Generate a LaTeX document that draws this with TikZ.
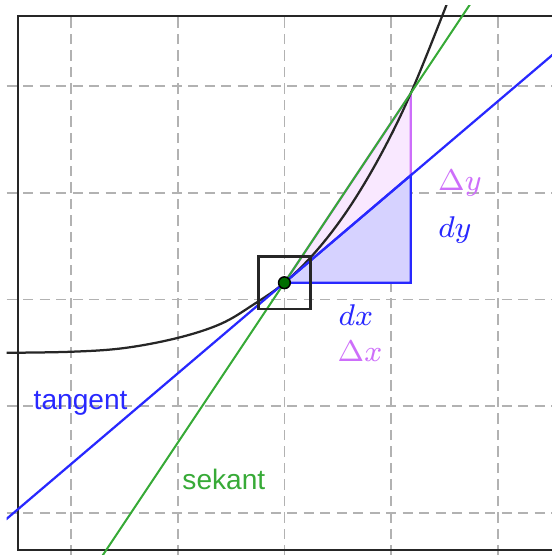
\documentclass[tikz,border=0pt]{standalone}
\usepackage{xcolor}
\usepackage{fontspec}
\newfontfamily\labelfont{Liberation Sans}
\definecolor{tanblue}{RGB}{40, 40, 255}
\definecolor{secgreen}{RGB}{55, 170, 55}
\definecolor{deltapink}{RGB}{205, 110, 250}
\definecolor{pinkfill}{RGB}{249, 232, 255}
\definecolor{bluefill}{RGB}{214, 210, 255}
\definecolor{dotgreen}{RGB}{0, 110, 0}
\usepackage{tikz}
\usetikzlibrary{positioning, calc}

\begin{document}
\begin{tikzpicture}[
    gridline/.style={gray!60, line width=0.45pt, dash pattern=on 2.7pt off 1.7pt},
    frameline/.style={black!85, line width=0.65pt},
    curveline/.style={black!85, line width=0.6pt},
    tanline/.style={tanblue, line width=0.6pt},
    secline/.style={secgreen, line width=0.55pt},
    wordlbl/.style={font=\labelfont\fontsize{7.5}{9}\selectfont, inner sep=0pt},
    mathlbl/.style={font=\fontsize{8}{9}\selectfont, inner sep=0pt}
  ]
    \useasboundingbox (-2.666,-2.395) rectangle (2.507,2.807);

    % tangent point, secant point and the foot of both triangles
    \coordinate (P) at (0,0.157);
    \coordinate (Q) at (1.183,1.930);
    \coordinate (R) at (1.183,0.157);
    \coordinate (T) at (1.183,1.163);

    \begin{scope}
      \clip (-2.603,-2.395) rectangle (2.507,2.751);

      % grid
      \foreach \k in {-2,...,2} {
        \draw[gridline] (\k,-2.4) -- (\k,2.70);
        \draw[gridline] (-2.603,\k) -- (2.6,\k);
      }
      \draw[frameline] (-2.495,-2.347) rectangle (2.7,2.657);

      % Delta triangle and d triangle
      \filldraw[fill=pinkfill, draw=deltapink, line width=0.6pt] (P) -- (Q) -- (R) -- cycle;
      \filldraw[fill=bluefill, draw=tanblue, line width=0.6pt] (P) -- (T) -- (R) -- cycle;

      % graph
      \draw[curveline] plot[smooth, tension=0.6] coordinates {
        (-2.65,-0.500) (-2.0,-0.490) (-1.5,-0.455) (-1.0,-0.360)
        (-0.6,-0.230) (-0.3,-0.054) (0,0.157) (0.3,0.456) (0.6,0.850)
        (0.9,1.351) (1.183,1.930) (1.5,2.712) (1.6,2.991)};

      % lines through P
      \coordinate (tanL) at ($(P)+(-2.7,-2.295)$);
      \coordinate (tanR) at ($(P)+(2.6,2.21)$);
      \coordinate (secL) at ($(P)+(-1.75,-2.625)$);
      \coordinate (secR) at ($(P)+(1.85,2.775)$);
      \draw[secline] (secL) -- (secR);
      \draw[tanline] (tanL) -- (tanR);

      \draw[frameline] (P) ++(-0.245,-0.245) rectangle ++(0.49,0.49);
      \filldraw[fill=dotgreen, draw=black, line width=0.4pt] (P) circle (0.055);
    \end{scope}

    \node[mathlbl, text=tanblue] (dxlbl) at (0.670,-0.145) {$dx$};
    \node[mathlbl, text=deltapink] (Dxlbl) at (0.708,-0.489) {$\Delta x$};
    \node[mathlbl, text=deltapink] (Dylbl) at (1.645,1.089) {$\Delta y$};
    \node[mathlbl, text=tanblue] (dylbl) at (1.598,0.651) {$dy$};
    \node[wordlbl, text=tanblue, anchor=base west] (tanlbl) at (-2.357,-1.029) {tangent};
    \node[wordlbl, text=secgreen, anchor=base west] (seclbl) at (-0.963,-1.785) {sekant};
  \end{tikzpicture}
\end{document}
